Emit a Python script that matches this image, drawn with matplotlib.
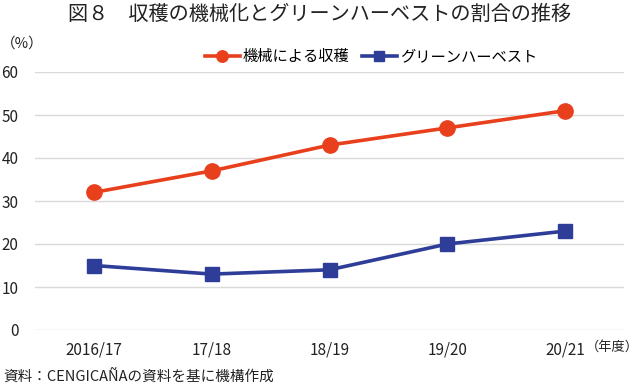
import matplotlib.pyplot as plt
import numpy as np

plt.rcParams['font.family'] = ['Noto Sans CJK JP', 'DejaVu Sans']

years = ['2016/17', '17/18', '18/19', '19/20', '20/21']
mech = [32, 37, 43, 47, 51]
green = [15, 13, 14, 20, 23]
yticks = [0, 10, 20, 30, 40, 50, 60]

red = '#E8401C'
blue = '#2E3D98'

fig = plt.figure(figsize=(6.4, 3.87), dpi=100)
ax = fig.add_axes([35 / 640, 1 - 330 / 387, 589 / 640, 258 / 387])

x = np.arange(len(years))
ax.plot(x, mech, color=red, lw=2.6, marker='o', ms=11, label='機械による収穫')
ax.plot(x, green, color=blue, lw=2.6, marker='s', ms=9.5, label='グリーンハーベスト')

ax.set_xlim(-0.5, len(years) - 0.5)
ax.set_ylim(0, 60)
ax.set_yticks(yticks)
ax.set_xticks(x)
ax.set_xticklabels(years)
ax.grid(axis='y', color='#D9D9D9', lw=1)
ax.set_axisbelow(True)
for s in ax.spines.values():
    s.set_visible(False)
ax.tick_params(length=0, colors='#222222')
ax.tick_params(axis='x', pad=8)
ax.tick_params(axis='y', pad=12)
for lab in ax.get_xticklabels() + ax.get_yticklabels():
    lab.set_family(['Liberation Sans Narrow', 'Noto Sans CJK JP'])
    lab.set_fontsize(11)

fig.text(0.5, 1 - 14 / 387, '図８　収穫の機械化とグリーンハーベストの割合の推移',
         ha='center', va='center', fontsize=14.5, color='#222222')
fig.text(1 / 640, 1 - 44 / 387, '（%）', ha='left', va='center', fontsize=10.5, color='#222222')
fig.text(639 / 640, 1 - 347 / 387, '（年度）', ha='right', va='center', fontsize=9.5, color='#222222')
fig.text(3 / 640, 1 - 377 / 387, '資料：CENGICAÑAの資料を基に機構作成', ha='left', va='center',
         fontsize=10.5, color='#222222')

ax.legend(loc='center', bbox_to_anchor=((371 - 35) / 589, (330 - 57) / 258), ncol=2,
          frameon=False, fontsize=11, handlelength=2.3, columnspacing=0.8, handletextpad=0.2,
          markerscale=0.75, borderaxespad=0, borderpad=0)

fig.savefig('out.png', dpi=100)
